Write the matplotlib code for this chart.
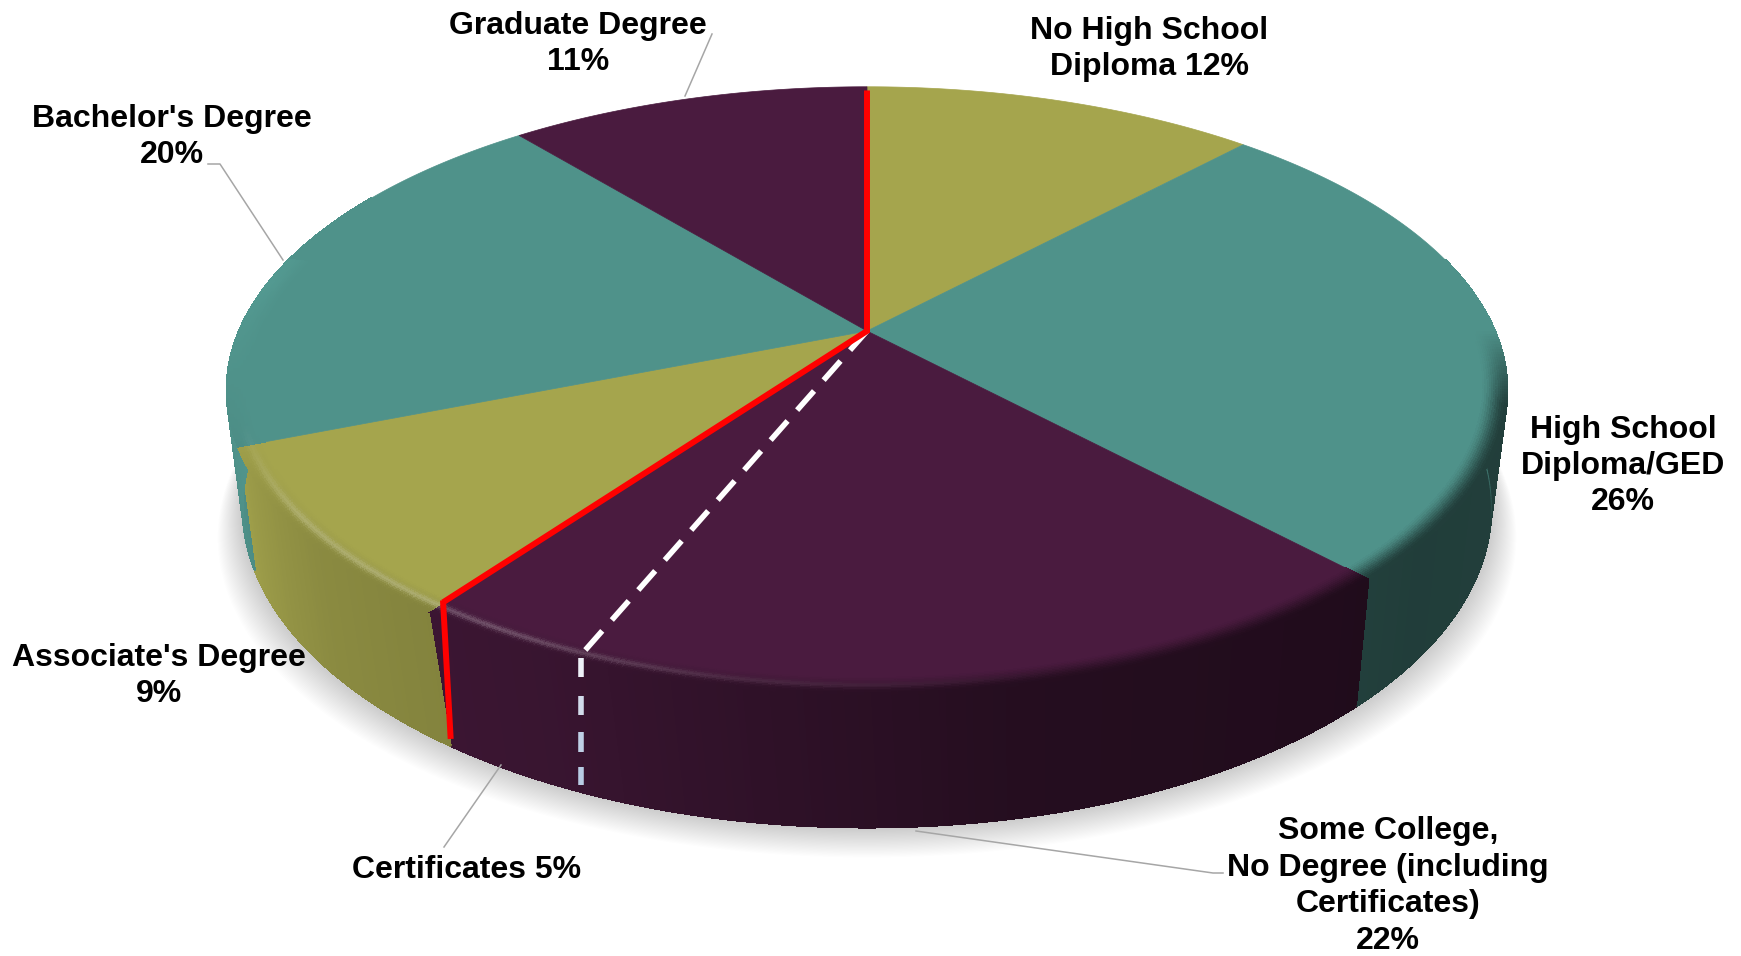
import numpy as np
import matplotlib
matplotlib.use("Agg")
import matplotlib.pyplot as plt
from matplotlib.collections import PolyCollection
from matplotlib.colors import to_rgb

plt.rcParams['font.family'] = ['Liberation Sans', 'DejaVu Sans']

# ---- data (clockwise from 12 o'clock) ----
categories = ["No High School Diploma", "High School Diploma/GED", "Some College, No Degree",
              "Associate's Degree", "Bachelor's Degree", "Graduate Degree"]
values = [12, 26, 22, 9, 20, 11]
certificates_drawn_share = 3.8   # width of dashed sub-slice as drawn, at the end of "Some College"
top_colors = ["#A5A54D", "#4F928A", "#4A1B3F", "#A5A54D", "#4F928A", "#4A1B3F"]

label_texts = ["No High School\nDiploma 12%", "High School\nDiploma/GED\n26%",
               "Some College,\nNo Degree (including\nCertificates)\n22%",
               "Associate's Degree\n9%", "Bachelor's Degree\n20%", "Graduate Degree\n11%",
               "Certificates 5%"]
label_xy = [(1149, 49), (1623, 466), (1388, 886), (159, 676), (172, 137), (578, 44), (467, 870)]
leaders = [[(712, 34), (685, 96)],
           [(208, 164), (220, 164), (283, 260)],
           [(501, 765), (444, 847)],
           [(916, 831), (1213, 873), (1223, 873)]]

# ---- projection of the pie plane ----
CX, CY, A, B, K = 867.0, 331.0, 628.0, 292.0, 0.1956
SX, SY, TY = 0.975, 1.054, 96.0
FLAT_R = 0.972

def top(theta_deg, r=1.0):
    t = np.radians(theta_deg)
    X, Y = r * np.sin(t), r * np.cos(t)
    w = 1 + K * Y
    return CX + A * X / w, CY - B * Y / w

def bottom(theta_deg):
    d = np.interp(theta_deg, [150, 216, 280], [0, 1.2, 0])
    x, y = top(theta_deg - d)
    return CX + SX * (x - CX), SY * y + TY

def side_factor(th):
    return np.interp(th, [90, 104, 130, 170, 205, 230, 250, 280, 300],
                     [1.0, .43, .42, .50, .76, .84, .97, 1.05, 1.0])

def highlight(th):
    return np.interp(th, [165, 190, 210, 235, 252], [0, .08, .24, .2, 0])

fig = plt.figure(figsize=(17.41, 9.56), dpi=100, facecolor="white")
ax = fig.add_axes([0, 0, 1, 1])
ax.set_xlim(0, 1741)
ax.set_ylim(956, 0)
ax.axis("off")

edges = 360 * np.cumsum([0] + values) / sum(values)
all_th = np.linspace(0, 360, 721)

# ---- soft shadow ----
bx, by = bottom(all_th)
N = 26
for i in range(N, 0, -1):
    f = i / N
    ax.fill(CX + (bx - CX) * (1 + 0.04 * f), by + 30 * f,
            color="black", alpha=0.0085, lw=0, zorder=1)

# ---- side wall ----
polys, cols = [], []
for v0, v1, c in zip(edges[:-1], edges[1:], top_colors):
    th = np.arange(v0, v1 + 0.25, 0.5)
    th[-1] = v1
    for a, b in zip(th[:-1], th[1:]):
        m = (a + b) / 2
        if not 75 < m < 300:
            continue
        polys.append([top(a), top(b), bottom(b), bottom(a)])
        cols.append(np.clip(np.array(to_rgb(c)) * side_factor(m), 0, 1))
ax.add_collection(PolyCollection(polys, facecolors=cols, edgecolors=cols, linewidths=0.8,
                                 antialiaseds=False, zorder=2))
# smooth outer edge of the wall
for p, c in zip(polys, cols):
    ax.plot([p[2][0], p[3][0]], [p[2][1], p[3][1]], color=c, lw=0.7, zorder=2.1,
            solid_capstyle="round")

# ---- top face: full radius at the back, rim shading takes over at the front ----
for v0, v1, c in zip(edges[:-1], edges[1:], top_colors):
    th = np.linspace(v0, v1, 160)
    x, y = top(th, np.where((th > 92) & (th < 283), 0.985, 1.0))
    ax.fill(np.r_[CX, x], np.r_[CY, y], color=c, lw=0.5, zorder=3)

# ---- rounded rim ----
rings = np.linspace(FLAT_R - 0.012, 1.0, 13)
polys, cols = [], []
for v0, v1, c in zip(edges[:-1], edges[1:], top_colors):
    th = np.arange(v0, v1 + 0.25, 0.5)
    th[-1] = v1
    base = np.array(to_rgb(c))
    for a, b in zip(th[:-1], th[1:]):
        m = (a + b) / 2
        if not 90 < m < 285:
            continue
        for r0, r1 in zip(rings[:-1], rings[1:]):
            rm = (r0 + r1) / 2
            t = np.clip((rm - rings[0]) / (rings[-1] - rings[0]), 0, 1)
            t2 = t * t * (3 - 2 * t)
            col = base * (1 - t2) + base * side_factor(m) * t2
            g = highlight(m) * np.exp(-((rm - 0.982) / 0.006) ** 2)
            col = col * (1 - g) + g * np.ones(3)
            polys.append([top(a, r0), top(b, r0), top(b, r1), top(a, r1)])
            cols.append(np.clip(col, 0, 1))
ax.add_collection(PolyCollection(polys, facecolors=cols, edgecolors=cols, linewidths=0.4,
                                 antialiaseds=False, zorder=4))

# ---- red outline of the sub-group boundary ----
red_start, red_end = edges[0], edges[3]
rx0, ry0 = top(red_start, 0.982)
rx1, ry1 = top(red_end, FLAT_R)
rx2, ry2 = bottom(red_end)
ax.plot([rx0, CX, rx1], [ry0, CY, ry1], color="#FF0000", lw=4.3, solid_joinstyle="miter",
        solid_capstyle="butt", zorder=6)
ax.plot([rx1, rx2], [ry1 - 2, ry2 - 7], color="#FF0000", lw=4.3, solid_capstyle="butt", zorder=6)

# ---- dashed white boundary of Certificates ----
dash_th = edges[3] - certificates_drawn_share * 3.6
dx1, dy1 = top(dash_th, 0.985)
ax.plot([CX, dx1], [CY, dy1], color="white", lw=4.0, dashes=(4.6, 2.6), zorder=5)
dyb = bottom(dash_th)[1]
dash_fracs = [(0.02, 0.16), (0.29, 0.43), (0.55, 0.69), (0.80, 0.93)]
dash_cols = ["#EEF2F8", "#D2DCEB", "#BFD0E6", "#B8CCE4"]
for (f0, f1), c in zip(dash_fracs, dash_cols):
    ax.plot([dx1, dx1], [dy1 + f0 * (dyb - dy1), dy1 + f1 * (dyb - dy1)], color=c, lw=4.0,
            solid_capstyle="butt", zorder=5)

# ---- leaders & labels ----
for pts in leaders:
    p = np.array(pts)
    ax.plot(p[:, 0], p[:, 1], color="#A6A6A6", lw=1.1, zorder=7)
for s, (x, y) in zip(label_texts, label_xy):
    ax.text(x, y, s, ha="center", va="center", fontsize=23, fontweight="bold",
            color="black", linespacing=1.28, zorder=8)

fig.savefig("out.png", dpi=100, facecolor="white")
